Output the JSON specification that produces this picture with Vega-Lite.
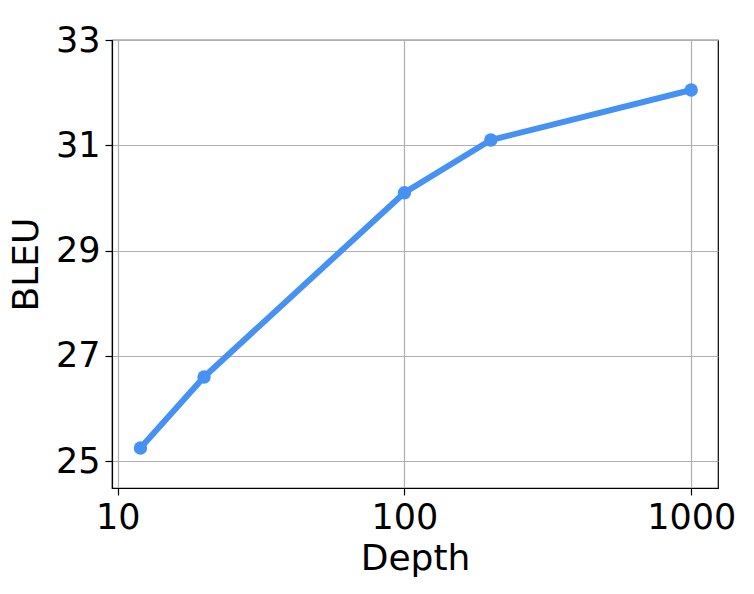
{
  "$schema": "https://vega.github.io/schema/vega-lite/v6.json",
  "width": 606,
  "height": 448,
  "autosize": "none",
  "padding": {"left": 112, "top": 40, "right": 36, "bottom": 106},
  "background": "white",
  "config": {
    "font": "DejaVu Sans",
    "view": {"stroke": "black", "strokeWidth": 1.2},
    "axis": {
      "gridColor": "#b0b0b0",
      "gridWidth": 1.2,
      "domainColor": "black",
      "domainWidth": 1.2,
      "tickColor": "black",
      "tickSize": 7,
      "tickWidth": 1.2,
      "labelFontSize": 35,
      "labelColor": "black",
      "titleFontSize": 36,
      "titleFontWeight": "normal",
      "titleColor": "black",
      "labelPadding": 5
    }
  },
  "data": {
    "values": [
      {"depth": 12, "bleu": 25.25},
      {"depth": 20, "bleu": 26.6},
      {"depth": 100, "bleu": 30.1},
      {"depth": 200, "bleu": 31.1},
      {"depth": 1000, "bleu": 32.05}
    ]
  },
  "encoding": {
    "x": {
      "field": "depth",
      "type": "quantitative",
      "scale": {"type": "log", "domain": [9.55, 1240], "nice": false},
      "axis": {"values": [10, 100, 1000], "format": "d", "title": "Depth", "titlePadding": 6, "labelFlush": false}
    },
    "y": {
      "field": "bleu",
      "type": "quantitative",
      "scale": {"domain": [24.49, 33], "nice": false, "zero": false},
      "axis": {"values": [25, 27, 29, 31, 33], "title": "BLEU", "titlePadding": 10, "labelFlush": false}
    }
  },
  "layer": [
    {"mark": {"type": "line", "color": "#4591f4", "strokeWidth": 6}},
    {"mark": {"type": "point", "filled": true, "color": "#4591f4", "opacity": 1, "size": 180}}
  ]
}
